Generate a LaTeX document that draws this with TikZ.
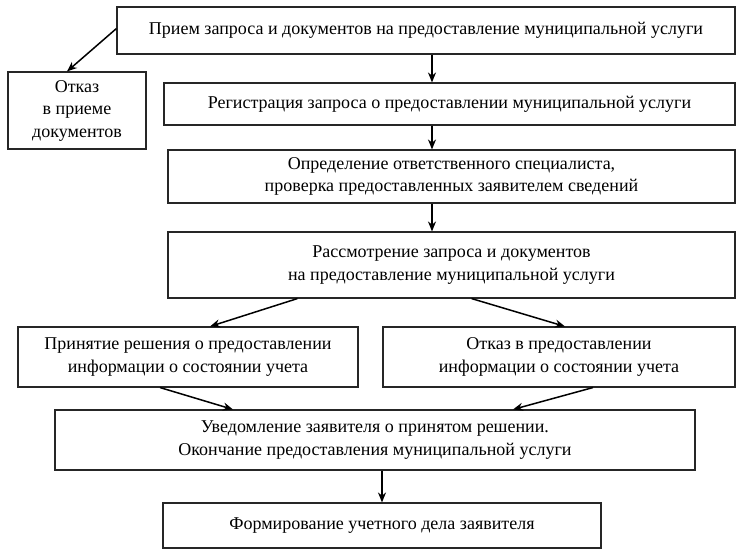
\documentclass[tikz,border=0pt]{standalone}
\usepackage{fontspec}
\setmainfont{Liberation Serif}
\usetikzlibrary{arrows.meta,calc}
\begin{document}
\begin{tikzpicture}[x=1pt,y=-1pt,
  box/.style={draw=black!85,line width=1.1pt,align=center,inner sep=0pt,
    font=\fontsize{18}{22.5}\selectfont},
  arr/.style={line width=1.5pt,-{Stealth[length=10pt,width=8pt]}}]
\useasboundingbox (0,0) rectangle (742,559);
\node[box,minimum width=618,minimum height=47] (A) at (426,30.5)
  {Прием запроса и документов на предоставление муниципальной услуги};
\node[box,minimum width=138,minimum height=77] (R) at (77,110.5)
  {Отказ\\в приеме\\документов};
\node[box,minimum width=571,minimum height=42] (B) at (449.5,104)
  {Регистрация запроса о предоставлении муниципальной услуги};
\node[box,minimum width=567,minimum height=53] (C) at (451.5,176.5)
  {Определение ответственного специалиста,\\проверка предоставленных заявителем сведений};
\node[box,minimum width=567,minimum height=66] (D) at (451.5,265)
  {Рассмотрение запроса и документов\\на предоставление муниципальной услуги};
\node[box,minimum width=340,minimum height=60] (E) at (188,357)
  {Принятие решения о предоставлении\\информации о состоянии учета};
\node[box,minimum width=352,minimum height=60] (F) at (559,357)
  {Отказ в предоставлении\\информации о состоянии учета};
\node[box,minimum width=640,minimum height=60] (G) at (375,440)
  {Уведомление заявителя о принятом решении.\\Окончание предоставления муниципальной услуги};
\node[box,minimum width=438,minimum height=45] (H) at (382,525.5)
  {Формирование учетного дела заявителя};
\draw[arr] ($(A.west)+(0,-2)$) -- ($(R.north)+(-10,0)$);
\draw[arr] ($(A.south)+(6,0)$) -- ($(B.north)+(-17.5,0)$);
\draw[arr] ($(B.south)+(-17.5,0)$) -- ($(C.north)+(-19.5,0)$);
\draw[arr] ($(C.south)+(-19.5,0)$) -- ($(D.north)+(-19.5,0)$);
\draw[arr] ($(D.south)+(-154,0)$) -- ($(E.north)+(22,0)$);
\draw[arr] ($(D.south)+(20,0)$) -- ($(F.north)+(6,0)$);
\draw[arr] ($(E.south)+(-28,0)$) -- ($(G.north)+(-142,0)$);
\draw[arr] ($(F.south)+(34,0)$) -- ($(G.north)+(138,0)$);
\draw[arr] (H.north |- G.south) -- (H.north);
\end{tikzpicture}
\end{document}
